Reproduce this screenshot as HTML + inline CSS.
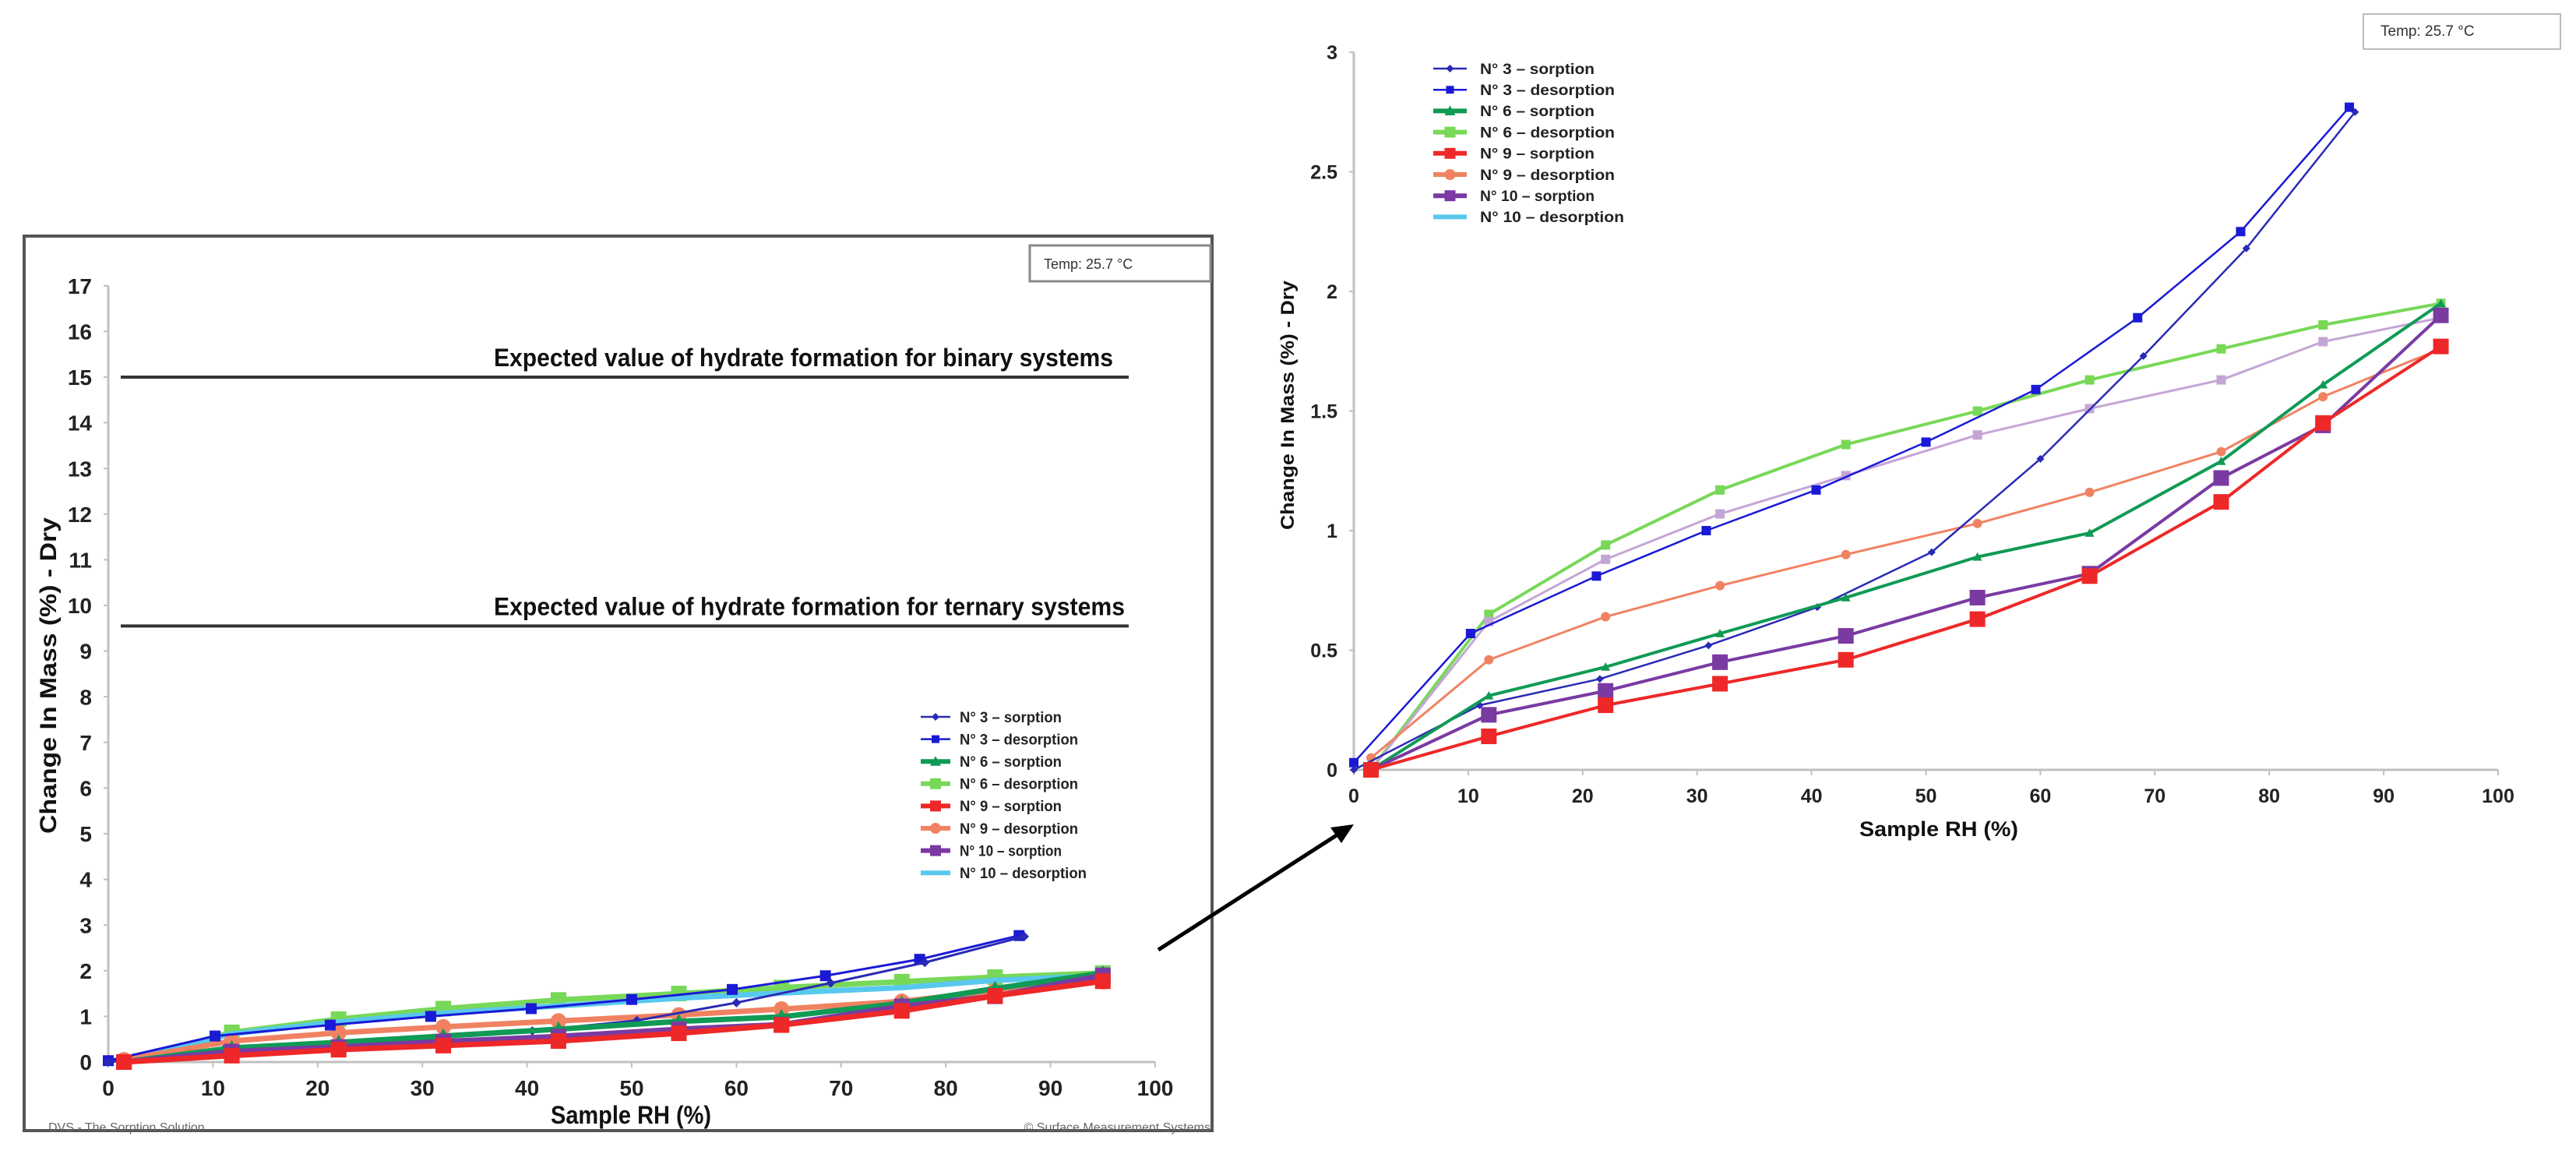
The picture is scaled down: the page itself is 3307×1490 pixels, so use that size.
<!DOCTYPE html>
<html><head><meta charset="utf-8"><style>
html,body{margin:0;padding:0;background:#fff;}
svg{display:block;font-family:"Liberation Sans",Arial,sans-serif;}
</style></head><body>
<svg id="svg" width="3307" height="1490" viewBox="0 0 3307 1490" xmlns="http://www.w3.org/2000/svg">
<g id="left"></g>
<g id="right"></g>
<g>
<line x1="1487" y1="1219" x2="1722" y2="1068" stroke="#000" stroke-width="5"/>
<polygon points="1738,1058 1708,1062 1722,1082" fill="#000"/>
</g>
</svg>
<script>
const NS="http://www.w3.org/2000/svg";
const seriesNames=["N° 3 – sorption","N° 3 – desorption","N° 6 – sorption","N° 6 – desorption","N° 9 – sorption","N° 9 – desorption","N° 10 – sorption","N° 10 – desorption"];
const rhN3Sorp=[0,11,21.5,31,40.5,50.5,60,69,78,87.5];
const valN3Sorp=[0,0.27,0.38,0.52,0.68,0.91,1.30,1.73,2.18,2.75];
const rhN3Des=[87,77.5,68.5,59.6,50,40.4,30.8,21.2,10.2,0];
const valN3Des=[2.77,2.25,1.89,1.59,1.37,1.17,1.00,0.81,0.57,0.03];
const rhStd=[1.5,11.8,22,32,43,54.5,64.3,75.8,84.7,95];
const rhStdRev=[95,84.7,75.8,64.3,54.5,43,32,22,11.8,1.5];
const valN6Sorp=[0,0.31,0.43,0.57,0.72,0.89,0.99,1.29,1.61,1.95];
const valN6Des=[1.95,1.86,1.76,1.63,1.50,1.36,1.17,0.94,0.65,0];
const valN9Sorp=[0,0.14,0.27,0.36,0.46,0.63,0.81,1.12,1.45,1.77];
const valN9Des=[1.76,1.56,1.33,1.16,1.03,0.90,0.77,0.64,0.46,0.05];
const valN10Sorp=[0,0.23,0.33,0.45,0.56,0.72,0.82,1.22,1.44,1.90];
const valN10Des=[1.89,1.79,1.63,1.51,1.40,1.23,1.07,0.88,0.62,0];
const leftYTicks=[0,1,2,3,4,5,6,7,8,9,10,11,12,13,14,15,16,17];
const rightYTicks=[0,0.5,1,1.5,2,2.5,3];
const xTicks=[0,10,20,30,40,50,60,70,80,90,100];
const refValues=[15,9.55];
const refLabels=["Expected value of hydrate formation for binary systems","Expected value of hydrate formation for ternary systems"];

const styles=[
 {c:"#2a2ab5",m:"diamond",w:[3,2.5]},
 {c:"#1a1ad6",m:"square",w:[3,2.5]},
 {c:"#109a55",m:"triangle",w:[7,4]},
 {c:"#78d858",m:"square",w:[7,4]},
 {c:"#ee2828",m:"square",w:[7,4]},
 {c:"#f08262",m:"circle",w:[7,3]},
 {c:"#7a3aa2",m:"square",w:[7,4]},
 {c:"#58c8ee",m:"none",w:[7,3],alt:"#c4a6d6"}
];
function seriesData(){return [
 [rhN3Sorp,valN3Sorp],[rhN3Des,valN3Des],[rhStd,valN6Sorp],[rhStdRev,valN6Des],
 [rhStd,valN9Sorp],[rhStdRev,valN9Des],[rhStd,valN10Sorp],[rhStdRev,valN10Des]];}

function el(tag,attrs,parent){const e=document.createElementNS(NS,tag);for(const k in attrs)e.setAttribute(k,attrs[k]);parent.appendChild(e);return e;}
function txt(parent,s,attrs){const t=el("text",attrs,parent);t.textContent=s;return t;}
function marker(g,type,x,y,r,c){
 let m;
 if(type==="square")m=el("rect",{x:x-r,y:y-r,width:2*r,height:2*r,fill:c},g);
 else if(type==="circle")m=el("circle",{cx:x,cy:y,r:r,fill:c},g);
 else if(type==="triangle")m=el("polygon",{points:`${x},${y-r} ${x+r},${y+r*0.8} ${x-r},${y+r*0.8}`,fill:c},g);
 else if(type==="diamond")m=el("polygon",{points:`${x},${y-r} ${x+r},${y} ${x},${y+r} ${x-r},${y}`,fill:c},g);
 else return;
 
 
}

function chart(g,cfg){
 const X=v=>cfg.x0+v*cfg.xs, Y=v=>cfg.y0-v*cfg.ys;
 const ymax=cfg.yTicks[cfg.yTicks.length-1];
 const ax=el("g",{},g);
 
 el("line",{x1:X(0),y1:Y(0),x2:X(0),y2:Y(ymax),stroke:"#c0c0c0","stroke-width":3},ax);
 el("line",{x1:X(0),y1:Y(0),x2:X(100),y2:Y(0),stroke:"#c0c0c0","stroke-width":3},ax);
 cfg.yTicks.forEach(v=>{
  el("line",{x1:X(0)-6,y1:Y(v),x2:X(0),y2:Y(v),stroke:"#c0c0c0","stroke-width":2},ax);
  const t=txt(ax,String(v),{x:cfg.yLabX,y:Y(v)+cfg.tf*0.36,"font-size":cfg.tf,"font-weight":"bold","text-anchor":"end",fill:"#222"});
  
 });
 xTicks.forEach(v=>{
  el("line",{x1:X(v),y1:Y(0),x2:X(v),y2:Y(0)+7,stroke:"#c0c0c0","stroke-width":2},ax);
  const t=txt(ax,String(v),{x:X(v),y:cfg.xLabY,"font-size":cfg.tf,"font-weight":"bold","text-anchor":"middle",fill:"#222"});
  
 });
 const data=seriesData();
 const order=[3,7,5,1,0,2,6,4];
 order.forEach(i=>{
  const s=styles[i];const [xs,ys]=data[i];
  const c=(cfg.side==="right"&&s.alt)?s.alt:s.c;
  const sg=el("g",{},g);
  
  const pts=xs.map((x,k)=>X(x)+","+Y(ys[k])).join(" ");
  const pl=el("polyline",{points:pts,fill:"none",stroke:c,"stroke-width":s.w[cfg.side==="left"?0:1],"stroke-linejoin":"round"},sg);
  
  const r=cfg.side==="left"?(s.m==="diamond"?6:(i===1?7:10)):(s.m==="diamond"?5:(i>=4&&i!==5&&i!==7?10:6));
  let mt=s.m; if(cfg.side==="right"&&i===7)mt="square";
  xs.forEach((x,k)=>marker(sg,mt,X(x),Y(ys[k]),r,c));
 });
 // legend
 const lg=el("g",{},g);
 
 seriesNames.forEach((n,i)=>{
  const y=cfg.legY+i*cfg.legStep;const s=styles[i];
  const e=el("g",{},lg);
  
  el("line",{x1:cfg.legX,y1:y,x2:cfg.legX+cfg.legLine,y2:y,stroke:s.c,"stroke-width":i<2?2.5:6},e);
  marker(e,s.m,cfg.legX+cfg.legLine/2,y,i<2?5:7,s.c);
  const w=n.length>17?cfg.legW[1]:(n.indexOf("desorption")>0?cfg.legW[2]:cfg.legW[0]);
  txt(e,n,{x:cfg.legX+cfg.legLine+cfg.legGap,y:y+cfg.legF*0.36,"font-size":cfg.legF,"font-weight":"bold",fill:"#222",textLength:w,lengthAdjust:"spacingAndGlyphs"});
 });
 return {X,Y};
}

const L=document.getElementById("left");
el("rect",{x:31,y:303,width:1525,height:1148,fill:"none",stroke:"#555","stroke-width":4},L);
const lc=chart(L,{side:"left",x0:139,xs:13.44,y0:1363,ys:58.6,yTicks:leftYTicks,yLabX:118,xLabY:1406,tf:28,
 legX:1182,legY:920,legStep:28.6,legLine:38,legGap:12,legF:19,legW:[131,163,152]});
refValues.forEach((v,i)=>{
 const l=el("line",{x1:155,y1:lc.Y(v),x2:1449,y2:lc.Y(v),stroke:"#333","stroke-width":4},L);
 
 const t=txt(L,refLabels[i],{x:634,y:lc.Y(v)-14,"font-size":32,"font-weight":"bold",fill:"#111",textLength:i===0?795:810,lengthAdjust:"spacingAndGlyphs"});
 
});
let t;
t=txt(L,"Change In Mass (%) - Dry",{x:0,y:0,"font-size":30,"font-weight":"bold",fill:"#111","text-anchor":"middle",transform:"translate(72,867) rotate(-90)",textLength:406,lengthAdjust:"spacingAndGlyphs"});

t=txt(L,"Sample RH (%)",{x:810,y:1442,"font-size":32,"font-weight":"bold",fill:"#111","text-anchor":"middle",textLength:206,lengthAdjust:"spacingAndGlyphs"});

const tb=el("g",{},L);
el("rect",{x:1322,y:315,width:232,height:46,fill:"#fff",stroke:"#888","stroke-width":3},tb);
txt(tb,"Temp:  25.7 °C",{x:1340,y:345,"font-size":18,fill:"#333"});
t=txt(L,"DVS - The Sorption Solution",{x:62,y:1452,"font-size":16,fill:"#666"});

t=txt(L,"© Surface Measurement Systems",{x:1554,y:1452,"font-size":16,fill:"#666","text-anchor":"end"});


const R=document.getElementById("right");
chart(R,{side:"right",x0:1738,xs:14.69,y0:988,ys:307,yTicks:rightYTicks,yLabX:1717,xLabY:1030,tf:25,
 legX:1840,legY:88,legStep:27.2,legLine:43,legGap:17,legF:19,legW:[147,185,173]});
t=txt(R,"Change In Mass (%) - Dry",{x:0,y:0,"font-size":24,"font-weight":"bold",fill:"#111","text-anchor":"middle",transform:"translate(1661,520) rotate(-90)",textLength:320,lengthAdjust:"spacingAndGlyphs"});

t=txt(R,"Sample RH (%)",{x:2489,y:1073,"font-size":27,"font-weight":"bold",fill:"#111","text-anchor":"middle",textLength:204,lengthAdjust:"spacingAndGlyphs"});

const tb2=el("g",{},R);
el("rect",{x:3034,y:18,width:253,height:45,fill:"#fff",stroke:"#bbb","stroke-width":2},tb2);
txt(tb2,"Temp:  25.7 °C",{x:3056,y:46,"font-size":19,fill:"#333"});
</script>
</body></html>
